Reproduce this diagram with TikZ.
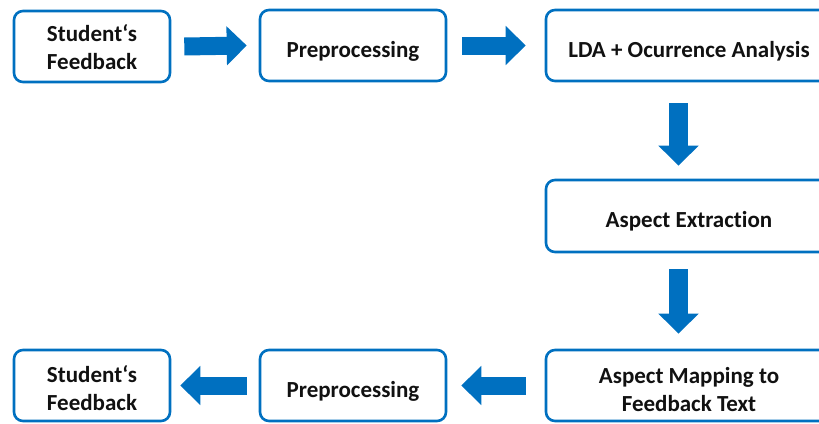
\documentclass[tikz,border=0pt]{standalone}
\usepackage{fontspec}
\setmainfont{Carlito}[Ligatures=NoCommon]
\usetikzlibrary{arrows.meta,calc}
\definecolor{flowblue}{HTML}{0070C0}
\definecolor{inktext}{HTML}{111111}
% text block whose first baseline sits #1 below the node centre
\newcommand\boxlines[2]{\raisebox{-#1}[0pt][0pt]{\begin{tabular}[t]{@{}c@{}}#2\end{tabular}}}
\tikzset{
  box/.style={draw=flowblue, line width=2.6pt, rounded corners=9pt, fill=white,
    text=inktext, inner sep=0pt,
    font=\bfseries\fontsize{23}{28}\selectfont},
  flow/.style={draw=flowblue, line width=18pt,
    -{Triangle[width=38pt,length=20pt]}},
  vflow/.style={draw=flowblue, line width=19pt,
    -{Triangle[width=39pt,length=20pt]}},
}
\begin{document}
\begin{tikzpicture}[x=1pt,y=-1pt]
  \useasboundingbox (0,0) rectangle (819,423);
  % top row
  \node[box, minimum width=156pt, minimum height=71pt] (fb1) at (92,46.5)
    {\boxlines{-5.5pt}{Student‘s\\Feedback}};
  \node[box, minimum width=186pt, minimum height=71pt] (pp1) at (353,45.5)
    {\boxlines{11.5pt}{Preprocessing}};
  \node[box, minimum width=286pt, minimum height=71pt] (lda) at (689,45.5)
    {\boxlines{11.5pt}{LDA + Ocurrence Analysis}};
  % middle
  \node[box, minimum width=286pt, minimum height=72pt] (ext) at (689,216)
    {\boxlines{11.5pt}{Aspect Extraction}};
  % bottom row
  \node[box, minimum width=286pt, minimum height=71pt] (map) at (689,385.5)
    {\boxlines{-2pt}{Aspect Mapping to\\Feedback Text}};
  \node[box, minimum width=186pt, minimum height=71pt] (pp2) at (353,385.5)
    {\boxlines{11.5pt}{Preprocessing}};
  \node[box, minimum width=156pt, minimum height=71pt] (fb2) at (92,385.5)
    {\boxlines{-3pt}{Student‘s\\Feedback}};
  % block arrows
  \draw[flow] ($(fb1.east)+(13pt,0pt)$) -- ($(pp1.west)+(-12pt,0pt)$);
  \draw[flow] ($(pp1.east)+(15pt,0pt)$) -- ($(lda.west)+(-19pt,0pt)$);
  \draw[vflow] ($(lda.south)+(-10.5pt,-21pt)$) -- ($(ext.north)+(-10.5pt,13pt)$);
  \draw[vflow] ($(ext.south)+(-10.5pt,-16pt)$) -- ($(map.north)+(-10.5pt,15pt)$);
  \draw[flow] ($(map.west)+(-19pt,0pt)$) -- ($(pp2.east)+(14pt,0pt)$);
  \draw[flow] ($(pp2.west)+(-12pt,0pt)$) -- ($(fb2.east)+(9pt,0pt)$);
\end{tikzpicture}
\end{document}
